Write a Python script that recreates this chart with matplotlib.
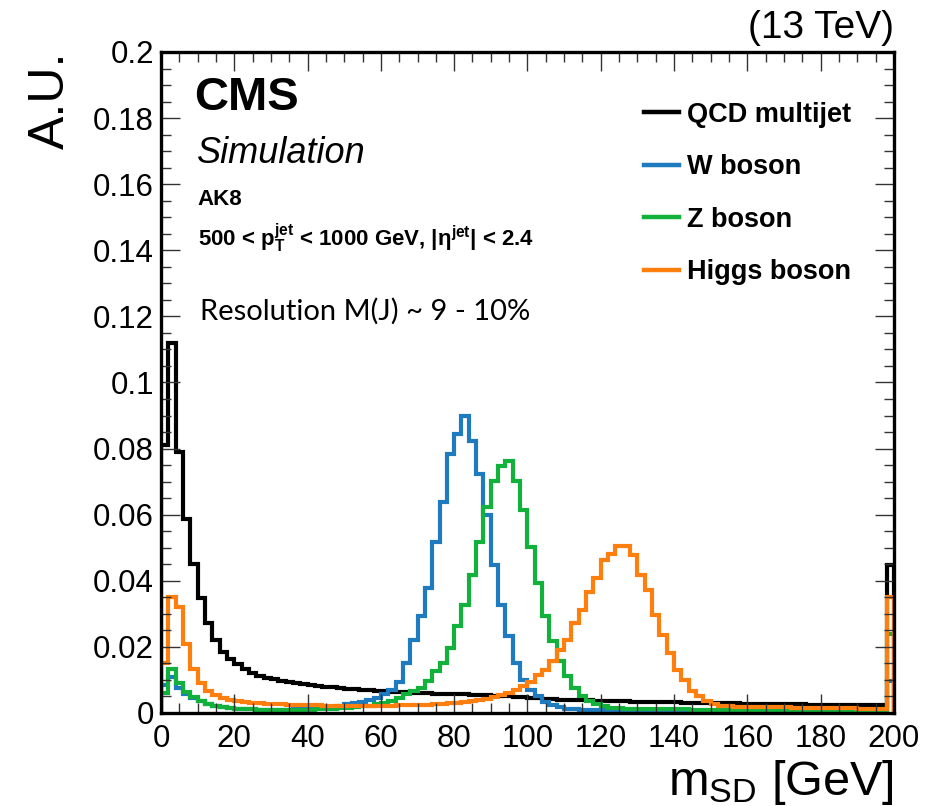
import matplotlib
matplotlib.use('Agg')
import matplotlib.pyplot as plt
from matplotlib.ticker import MultipleLocator, FuncFormatter
import numpy as np

# bin edges: 100 bins of 2 GeV
edges = np.arange(0, 202, 2)

qcd = [0.081, 0.112, 0.079, 0.0587, 0.0452, 0.0347, 0.0272, 0.0222, 0.0186, 0.0162,
       0.0147, 0.0132, 0.0121, 0.0113, 0.0107, 0.0102, 0.0098, 0.0094, 0.0090, 0.0087,
       0.0084, 0.0082, 0.0080, 0.0078, 0.0076, 0.0074, 0.0072, 0.0070, 0.0069, 0.0067,
       0.0066, 0.0064, 0.0063, 0.0062, 0.0061, 0.0060, 0.0059, 0.0058, 0.0058, 0.0057,
       0.0057, 0.0056, 0.0055, 0.0054, 0.0053, 0.0052, 0.0051, 0.0050, 0.0049, 0.0048,
       0.0046, 0.0044, 0.0042, 0.0041, 0.0040, 0.0040, 0.0039, 0.0039, 0.0038, 0.0037,
       0.0036, 0.0036, 0.0035, 0.0035, 0.0034, 0.0034, 0.0033, 0.0033, 0.0033, 0.0032,
       0.0032, 0.0031, 0.0031, 0.0031, 0.0030, 0.0030, 0.0030, 0.0029, 0.0029, 0.0028,
       0.0028, 0.0028, 0.0027, 0.0027, 0.0027, 0.0026, 0.0026, 0.0026, 0.0025, 0.0025,
       0.0025, 0.0025, 0.0024, 0.0024, 0.0024, 0.0024, 0.0023, 0.0023, 0.0023, 0.0448]

w_boson = [0.0085, 0.0110, 0.0076, 0.0058, 0.0044, 0.0035, 0.0027, 0.0021, 0.0017, 0.0014,
           0.0012, 0.0011, 0.0011, 0.0010, 0.0010, 0.0010, 0.0010, 0.0010, 0.0011, 0.0011,
           0.0012, 0.0014, 0.0016, 0.0019, 0.0022, 0.0026, 0.0030, 0.0034, 0.0039, 0.0046,
           0.0056, 0.0070, 0.0094, 0.0151, 0.0222, 0.0292, 0.0377, 0.0517, 0.0638, 0.0783,
           0.0843, 0.0898, 0.0823, 0.0723, 0.0598, 0.0447, 0.0327, 0.0232, 0.0151, 0.0101,
           0.0071, 0.0051, 0.0033, 0.0023, 0.0017, 0.0013, 0.0011, 0.0010, 0.0009, 0.0009,
           0.0009, 0.0008, 0.0008, 0.0008, 0.0008, 0.0008, 0.0007, 0.0007, 0.0007, 0.0007,
           0.0007, 0.0006, 0.0006, 0.0006, 0.0006, 0.0006, 0.0006, 0.0006, 0.0005, 0.0005,
           0.0005, 0.0005, 0.0005, 0.0005, 0.0005, 0.0005, 0.0005, 0.0005, 0.0004, 0.0004,
           0.0004, 0.0004, 0.0004, 0.0004, 0.0004, 0.0004, 0.0004, 0.0004, 0.0004, 0.0096]

z_boson = [0.0060, 0.0132, 0.0091, 0.0063, 0.0048, 0.0037, 0.0028, 0.0021, 0.0017, 0.0014,
           0.0012, 0.0011, 0.0011, 0.0010, 0.0010, 0.0010, 0.0010, 0.0010, 0.0010, 0.0010,
           0.0010, 0.0011, 0.0012, 0.0013, 0.0014, 0.0016, 0.0018, 0.0020, 0.0022, 0.0026,
           0.0031, 0.0036, 0.0046, 0.0056, 0.0066, 0.0076, 0.0096, 0.0126, 0.0151, 0.0196,
           0.0262, 0.0327, 0.0417, 0.0517, 0.0623, 0.0703, 0.0748, 0.0763, 0.0703, 0.0613,
           0.0502, 0.0392, 0.0292, 0.0217, 0.0156, 0.0111, 0.0076, 0.0051, 0.0036, 0.0027,
           0.0020, 0.0016, 0.0014, 0.0013, 0.0013, 0.0012, 0.0012, 0.0012, 0.0011, 0.0011,
           0.0011, 0.0011, 0.0010, 0.0010, 0.0010, 0.0010, 0.0010, 0.0009, 0.0009, 0.0009,
           0.0009, 0.0009, 0.0009, 0.0008, 0.0008, 0.0008, 0.0008, 0.0008, 0.0008, 0.0008,
           0.0008, 0.0008, 0.0007, 0.0007, 0.0007, 0.0007, 0.0007, 0.0007, 0.0007, 0.0240]

higgs = [0.0150, 0.0352, 0.0322, 0.0208, 0.0132, 0.0091, 0.0068, 0.0055, 0.0046, 0.0040,
         0.0036, 0.0033, 0.0031, 0.0029, 0.0028, 0.0027, 0.0026, 0.0025, 0.0024, 0.0024,
         0.0023, 0.0023, 0.0022, 0.0022, 0.0021, 0.0021, 0.0021, 0.0021, 0.0021, 0.0022,
         0.0022, 0.0022, 0.0023, 0.0023, 0.0024, 0.0024, 0.0025, 0.0026, 0.0027, 0.0029,
         0.0031, 0.0033, 0.0036, 0.0039, 0.0043, 0.0048, 0.0054, 0.0061, 0.0070, 0.0081,
         0.0095, 0.0115, 0.0131, 0.0156, 0.0191, 0.0222, 0.0272, 0.0312, 0.0367, 0.0407,
         0.0462, 0.0482, 0.0505, 0.0505, 0.0477, 0.0417, 0.0372, 0.0297, 0.0237, 0.0181,
         0.0131, 0.0101, 0.0066, 0.0051, 0.0036, 0.0027, 0.0022, 0.0020, 0.0019, 0.0019,
         0.0018, 0.0018, 0.0018, 0.0017, 0.0017, 0.0017, 0.0016, 0.0016, 0.0016, 0.0015,
         0.0015, 0.0015, 0.0014, 0.0014, 0.0014, 0.0013, 0.0013, 0.0013, 0.0012, 0.0350]

labels = ['QCD multijet', 'W boson', 'Z boson', 'Higgs boson']
colors = ['black', '#1f7bbf', '#12b13c', '#ff7f0e']

plt.rcParams['font.family'] = ['Liberation Sans', 'DejaVu Sans']
plt.rcParams['mathtext.fontset'] = 'custom'
plt.rcParams['mathtext.rm'] = 'Liberation Sans'
plt.rcParams['mathtext.it'] = 'Liberation Sans:italic'
plt.rcParams['mathtext.bf'] = 'Liberation Sans:bold'

fig = plt.figure(figsize=(9.48, 8.06), dpi=100)
ax = fig.add_axes([0.1698, 0.1154, 0.7732, 0.8201])

for vals, col, lab in zip([qcd, w_boson, z_boson, higgs], colors, labels):
    ax.stairs(vals, edges, color=col, linewidth=3.0, label=lab, baseline=0)

ax.set_xlim(0, 200)
ax.set_ylim(0, 0.2)
ax.xaxis.set_major_locator(MultipleLocator(20))
ax.xaxis.set_minor_locator(MultipleLocator(5))
ax.yaxis.set_major_locator(MultipleLocator(0.02))
ax.yaxis.set_minor_locator(MultipleLocator(0.005))
ax.yaxis.set_major_formatter(FuncFormatter(lambda v, p: '%g' % round(v, 3)))
ax.tick_params(which='both', direction='in', top=True, right=True, width=1.0, color='#333333')
ax.tick_params(which='major', length=14, labelsize=22.5)
ax.tick_params(axis='y', which='major', pad=5)
ax.tick_params(axis='x', which='major', pad=8)
ax.tick_params(which='minor', length=7)
for s in ax.spines.values():
    s.set_linewidth(2.4)
    s.set_zorder(10)

ax.set_ylabel('A.U.', loc='top', fontsize=36, labelpad=14)
ax.set_xlabel(r'm$_{\mathrm{SD}}$ [GeV]', loc='right', fontsize=35, labelpad=3)

ax.text(1.0, 1.021, '(13 TeV)', transform=ax.transAxes, ha='right', va='baseline', fontsize=28)
ax.text(0.045, 0.912, 'CMS', transform=ax.transAxes, ha='left', va='baseline',
        fontsize=34, fontweight='bold')
ax.text(0.049, 0.832, 'Simulation', transform=ax.transAxes, ha='left', va='baseline',
        fontsize=26, fontstyle='italic')
ax.text(0.05, 0.7685, 'AK8', transform=ax.transAxes, ha='left', va='baseline',
        fontsize=16, fontweight='bold')
ax.text(0.05, 0.706, r'500 < p$_\mathbf{T}^\mathbf{jet}$ < 1000 GeV, |$\mathbf{\eta}^\mathbf{jet}$| < 2.4',
        transform=ax.transAxes, ha='left', va='baseline', fontsize=16, fontweight='bold')
ax.text(0.053, 0.5946, 'Resolution M(J) ~ 9 - 10%', transform=ax.transAxes, ha='left',
        va='baseline', fontsize=21, family=['Lato', 'DejaVu Sans'])

leg = ax.legend(loc='upper left', bbox_to_anchor=(0.659, 0.925), frameon=False,
                borderaxespad=0, borderpad=0, handlelength=1.3, handletextpad=0.27,
                labelspacing=0.98, prop={'family': 'Liberation Sans', 'weight': 'bold', 'size': 19.5})
for h in leg.get_lines():
    h.set_linewidth(3.2)

fig.savefig('out.png', dpi=100)
